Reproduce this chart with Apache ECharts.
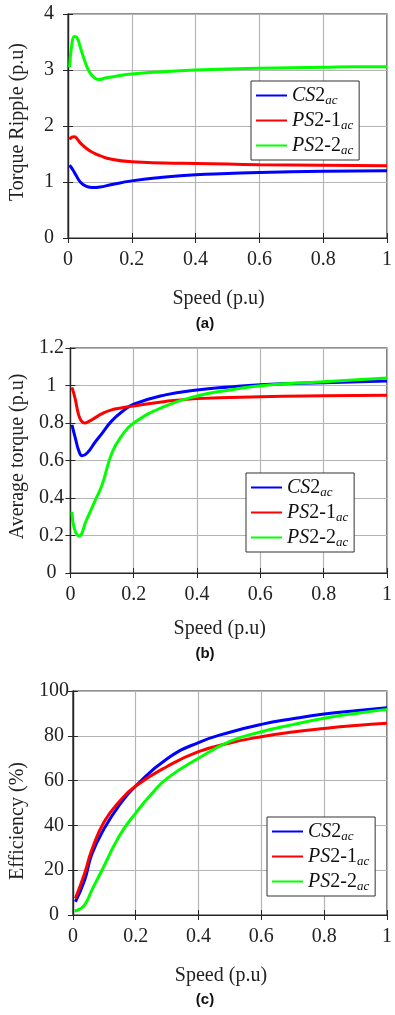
<!DOCTYPE html>
<html>
<head>
<meta charset="utf-8">
<script src="https://cdn.jsdelivr.net/npm/echarts@6/dist/echarts.min.js"></script>
<style>
  html, body { margin: 0; padding: 0; background: #fff; }
  #chart { width: 395px; height: 1015px; }
</style>
</head>
<body>
<div id="chart"></div>
<script>
// (a) torque ripple
const rippleCsX = [0.005, 0.015, 0.025, 0.04, 0.055, 0.077, 0.1, 0.134, 0.2, 0.29, 0.4, 0.5, 0.6, 0.8, 1.0];
const rippleCsY = [1.30, 1.22, 1.12, 0.99, 0.93, 0.90, 0.91, 0.95, 1.02, 1.08, 1.13, 1.15, 1.17, 1.19, 1.20];
const ripplePs1X = [0.005, 0.012, 0.02, 0.03, 0.04, 0.06, 0.083, 0.1, 0.134, 0.2, 0.3, 0.4, 0.5, 0.6, 0.8, 1.0];
const ripplePs1Y = [1.76, 1.80, 1.81, 1.76, 1.69, 1.59, 1.51, 1.47, 1.41, 1.36, 1.34, 1.33, 1.32, 1.31, 1.30, 1.29];
const ripplePs2X = [0.005, 0.012, 0.02, 0.028, 0.04, 0.055, 0.07, 0.085, 0.095, 0.12, 0.15, 0.2, 0.3, 0.4, 0.5, 0.6, 0.7, 0.8, 0.9, 1.0];
const ripplePs2Y = [3.05, 3.45, 3.60, 3.58, 3.38, 3.12, 2.94, 2.85, 2.83, 2.86, 2.89, 2.93, 2.97, 3.00, 3.02, 3.03, 3.04, 3.05, 3.06, 3.06];

// (b) average torque
const torqueCsX = [0.005, 0.017, 0.027, 0.037, 0.053, 0.079, 0.1, 0.13, 0.163, 0.2, 0.3, 0.4, 0.5, 0.6, 0.8, 1.0];
const torqueCsY = [0.79, 0.71, 0.65, 0.625, 0.64, 0.70, 0.745, 0.81, 0.86, 0.90, 0.95, 0.976, 0.992, 1.004, 1.015, 1.024];
const torquePs1X = [0.005, 0.015, 0.025, 0.035, 0.046, 0.06, 0.08, 0.1, 0.13, 0.16, 0.2, 0.3, 0.4, 0.6, 0.8, 1.0];
const torquePs1Y = [0.99, 0.93, 0.85, 0.81, 0.80, 0.81, 0.83, 0.85, 0.87, 0.88, 0.89, 0.915, 0.93, 0.94, 0.945, 0.948];
const torquePs2X = [0.005, 0.012, 0.027, 0.05, 0.079, 0.1, 0.131, 0.16, 0.2, 0.3, 0.4, 0.5, 0.6, 0.8, 1.0];
const torquePs2Y = [0.327, 0.24, 0.197, 0.28, 0.39, 0.47, 0.64, 0.727, 0.80, 0.89, 0.944, 0.975, 0.999, 1.02, 1.04];

// (c) efficiency
const effCsX = [0.008, 0.0375, 0.06, 0.1, 0.15, 0.2, 0.3, 0.4, 0.5, 0.6, 0.7, 0.8, 0.9, 1.0];
const effCsY = [5.9, 15.6, 27, 38.7, 49.5, 57.6, 69.8, 77.0, 81.6, 85.1, 87.6, 89.7, 91.2, 92.5];
const effPs1X = [0.008, 0.0375, 0.06, 0.1, 0.15, 0.2, 0.3, 0.4, 0.5, 0.6, 0.7, 0.8, 0.9, 1.0];
const effPs1Y = [7.4, 18.6, 29, 41.7, 51, 57.6, 66.3, 72.9, 76.8, 79.6, 81.7, 83.3, 84.6, 85.6];
const effPs2X = [0.005, 0.02, 0.0375, 0.06, 0.09, 0.11, 0.131, 0.16, 0.2, 0.25, 0.3, 0.4, 0.5, 0.6, 0.7, 0.8, 0.9, 1.0];
const effPs2Y = [1.8, 2.5, 4.5, 11, 19.3, 25, 31, 38, 45.5, 54, 61, 70, 77.5, 81.8, 85, 87.8, 90, 91.8];

const seriesNames = ["CS2ac", "PS2-1ac", "PS2-2ac"];
const seriesColors = ["#0000ff", "#ff0000", "#00ff00"];
const yTitles = ["Torque Ripple (p.u)", "Average torque (p.u)", "Efficiency (%)"];
const yRanges = [[0, 4, 1], [0, 1.2, 0.2], [0, 100, 20]];
const panelLabels = ["(a)", "(b)", "(c)"];

const panels = [
  [[rippleCsX, rippleCsY], [ripplePs1X, ripplePs1Y], [ripplePs2X, ripplePs2Y]],
  [[torqueCsX, torqueCsY], [torquePs1X, torquePs1Y], [torquePs2X, torquePs2Y]],
  [[effCsX, effCsY], [effPs1X, effPs1Y], [effPs2X, effPs2Y]],
];

const grids = [
  { left: 67, top: 14, width: 320, height: 224 },
  { left: 68, top: 348, width: 320, height: 225 },
  { left: 68, top: 691, width: 320, height: 224 },
];
const legendPos = [[251, 81], [246, 473], [267, 817]];
const labelY = [324, 654, 1000];
const xNameGap = [51, 46, 51];

const serif = "'Liberation Serif', 'Times New Roman', serif";
const frame = "#262626";

const legendText = {
  "CS2ac": "{it|CS}{n|2}{sub|ac}",
  "PS2-1ac": "{it|PS}{n|2-1}{sub|ac}",
  "PS2-2ac": "{it|PS}{n|2-2}{sub|ac}",
};

const zip = (xs, ys) => xs.map((x, i) => [x, ys[i]]);

const chart = echarts.init(document.getElementById("chart"));

const xAxes = [];
const yAxes = [];
const series = [];
const legends = [];

grids.forEach((g, i) => {
  const [ymin, ymax, yint] = yRanges[i];
  xAxes.push({
    type: "value", gridIndex: i, min: 0, max: 1, interval: 0.2,
    name: "Speed (p.u)", nameLocation: "middle", nameGap: xNameGap[i],
    nameTextStyle: { fontFamily: serif, fontSize: 20, color: "#222", padding: [0, 18, 0, 0] },
    axisLine: { show: true, lineStyle: { color: frame, width: 1.2 } },
    axisTick: { inside: true, length: 5, lineStyle: { color: frame } },
    axisLabel: { fontFamily: serif, fontSize: 20, color: "#222", margin: 12,
      formatter: (v) => String(+v.toFixed(1)) },
    splitLine: { show: true, lineStyle: { color: "#b4b4b4", width: 1.2 } },
  });
  xAxes.push({
    type: "value", gridIndex: i, position: "top", min: 0, max: 1, interval: 0.2,
    axisLine: { show: true, lineStyle: { color: frame, width: 1.2 } },
    axisTick: { inside: true, length: 5, lineStyle: { color: frame } },
    axisLabel: { show: false }, splitLine: { show: false },
  });
  yAxes.push({
    type: "value", gridIndex: i, min: ymin, max: ymax, interval: yint,
    name: yTitles[i], nameLocation: "middle", nameGap: 40,
    nameTextStyle: { fontFamily: serif, fontSize: 20, color: "#222",
      padding: i === 2 ? [0, 36, 0, 0] : [0, 0, 0, 8] },
    axisLine: { show: true, lineStyle: { color: frame, width: 1.2 } },
    axisTick: { inside: true, length: 5, lineStyle: { color: frame } },
    axisLabel: { fontFamily: serif, fontSize: 20, color: "#222", margin: 19, align: "center",
      formatter: (v) => String(+v.toFixed(1)) },
    splitLine: { show: true, lineStyle: { color: "#b4b4b4", width: 1.2 } },
  });
  yAxes.push({
    type: "value", gridIndex: i, position: "right", min: ymin, max: ymax, interval: yint,
    axisLine: { show: true, lineStyle: { color: frame, width: 1.2 } },
    axisTick: { inside: true, length: 5, lineStyle: { color: frame } },
    axisLabel: { show: false }, splitLine: { show: false },
  });

  panels[i].forEach(([xs, ys], k) => {
    series.push({
      name: seriesNames[k], type: "line",
      xAxisIndex: i * 2, yAxisIndex: i * 2,
      data: zip(xs, ys),
      showSymbol: false, symbol: "none",
      smooth: 0.5,
      lineStyle: { color: seriesColors[k], width: 3 },
      itemStyle: { color: seriesColors[k] },
      z: 3 + k,
    });
  });

  legends.push({
    orient: "vertical",
    left: legendPos[i][0], top: legendPos[i][1],
    data: seriesNames.map((n) => ({ name: n, icon: "rect" })),
    backgroundColor: "#fff",
    borderColor: "#333", borderWidth: 1,
    padding: [3, 6, 3, 5],
    itemWidth: 31, itemHeight: 2, itemGap: 2,
    selectedMode: false,
    formatter: (name) => legendText[name],
    textStyle: {
      rich: {
        it: { fontFamily: serif, fontStyle: "italic", fontSize: 20, color: "#111", lineHeight: 23 },
        n: { fontFamily: serif, fontSize: 20, color: "#111", lineHeight: 23 },
        sub: { fontFamily: serif, fontStyle: "italic", fontSize: 13, color: "#111",
          lineHeight: 13, padding: [10, 0, 0, 0] },
      },
    },
  });
});

chart.setOption({
  animation: false,
  backgroundColor: "#fff",
  grid: grids.map((g) => ({ ...g, show: true, backgroundColor: "#fff", borderColor: frame, borderWidth: 1.2 })),
  xAxis: xAxes,
  yAxis: yAxes,
  legend: legends,
  series: series,
  graphic: panelLabels.map((t, i) => ({
    type: "text", x: 205, y: labelY[i],
    style: { text: t, fontFamily: "'Liberation Sans', Arial, sans-serif", fontWeight: "bold",
      fontSize: 15, fill: "#111", align: "center", verticalAlign: "middle" },
  })),
});
</script>
</body>
</html>
